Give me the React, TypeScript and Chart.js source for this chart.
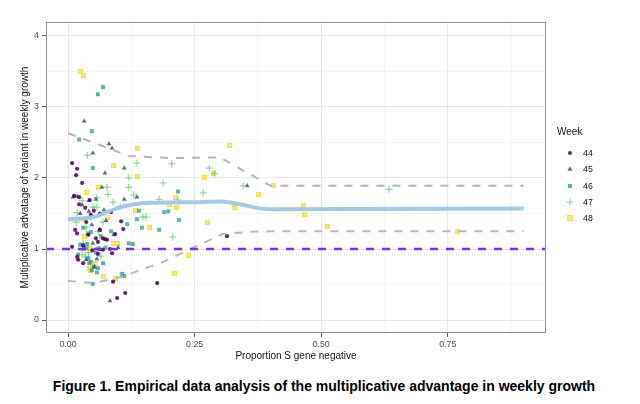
import { useEffect, useRef } from 'react'
import { Chart, registerables } from 'chart.js'

Chart.register(...registerables)

// proportion S gene negative vs multiplicative advantage, one list per week
const weeks = ['44', '45', '46', '47', '48']
const weekColors = [
  'rgba(68,1,84,0.85)',
  'rgba(59,82,139,0.85)',
  'rgba(33,144,140,0.72)',
  'rgba(94,201,98,0.8)',
  'rgba(253,231,37,0.5)',
]

const week44 = [
  [0.008, 2.21], [0.018, 2.13], [0.016, 2.04], [0.028, 1.93], [0.012, 1.75], [0.022, 1.73],
  [0.022, 1.63], [0.043, 1.69], [0.034, 1.58], [0.051, 1.54], [0.045, 1.48], [0.063, 1.5],
  [0.014, 1.27], [0.018, 1.22], [0.036, 1.38], [0.063, 1.27], [0.109, 1.28], [0.093, 1.21],
  [0.069, 1.15], [0.077, 1.13], [0.055, 1.15], [0.059, 1.1], [0.105, 1.39], [0.087, 0.94],
  [0.059, 0.93], [0.008, 1.03], [0.018, 0.89], [0.02, 0.85], [0.03, 0.8], [0.069, 0.99],
  [0.083, 1.0], [0.073, 1.14], [0.089, 0.54], [0.113, 0.38], [0.097, 0.31], [0.176, 0.52],
  [0.314, 1.18], [0.04, 1.2], [0.03, 1.05], [0.048, 0.98], [0.085, 1.52],
]
const week45 = [
  [0.032, 2.8], [0.081, 2.48], [0.087, 2.42], [0.049, 2.35], [0.073, 2.07], [0.111, 2.14],
  [0.067, 1.87], [0.01, 1.73], [0.018, 1.74], [0.041, 1.68], [0.055, 1.7], [0.111, 1.7],
  [0.136, 1.73], [0.024, 1.5], [0.041, 1.53], [0.071, 1.55], [0.047, 1.34], [0.062, 1.27],
  [0.049, 1.08], [0.036, 0.85], [0.057, 0.86], [0.063, 0.99], [0.083, 0.27], [0.354, 1.89],
  [0.028, 1.62], [0.09, 1.2], [0.075, 1.4], [0.03, 1.0], [0.052, 0.75], [0.099, 1.02],
]
const week46 = [
  [0.069, 3.28], [0.059, 3.18], [0.047, 2.66], [0.022, 2.54], [0.049, 2.14], [0.217, 1.81],
  [0.14, 1.54], [0.19, 1.52], [0.198, 1.53], [0.136, 1.42], [0.219, 1.41], [0.117, 1.35],
  [0.146, 1.3], [0.18, 1.27], [0.12, 1.08], [0.128, 1.07], [0.107, 0.65], [0.111, 0.62],
  [0.045, 1.24], [0.04, 1.22], [0.038, 1.07], [0.032, 1.02], [0.024, 1.06], [0.036, 1.01],
  [0.06, 1.01], [0.074, 1.02], [0.04, 0.87], [0.045, 0.82], [0.042, 0.8], [0.051, 0.75],
  [0.059, 0.73], [0.069, 0.8], [0.057, 0.67], [0.047, 0.7], [0.049, 0.51], [0.02, 0.92],
  [0.065, 1.18], [0.085, 1.25], [0.03, 1.3], [0.055, 0.95],
]
const week47 = [
  [0.038, 2.32], [0.136, 2.21], [0.205, 2.2], [0.279, 2.14], [0.289, 2.06], [0.346, 1.89],
  [0.267, 1.79], [0.634, 1.84], [0.077, 1.87], [0.12, 1.87], [0.188, 1.93], [0.13, 1.76],
  [0.18, 1.7], [0.217, 1.69], [0.148, 1.45], [0.154, 1.45], [0.207, 1.17], [0.079, 1.77],
  [0.089, 1.66], [0.028, 1.68], [0.049, 1.59], [0.057, 1.59], [0.103, 1.6], [0.018, 1.51],
  [0.016, 1.38], [0.069, 1.38], [0.036, 1.3], [0.03, 1.08], [0.028, 0.92], [0.034, 0.89],
  [0.057, 1.72], [0.12, 2.0], [0.045, 1.45], [0.06, 1.25], [0.04, 0.95], [0.065, 0.9],
]
const week48 = [
  [0.024, 3.5], [0.03, 3.45], [0.138, 2.42], [0.089, 2.18], [0.138, 2.02], [0.27, 2.01],
  [0.287, 2.07], [0.318, 2.46], [0.405, 1.9], [0.377, 1.77], [0.328, 1.58], [0.275, 1.38],
  [0.466, 1.61], [0.468, 1.49], [0.512, 1.31], [0.237, 0.91], [0.211, 0.65], [0.77, 1.25],
  [0.213, 1.73], [0.215, 1.59], [0.134, 1.54], [0.16, 1.3], [0.2, 1.63], [0.061, 1.86],
  [0.036, 1.8], [0.077, 1.45], [0.03, 1.41], [0.032, 1.17], [0.089, 1.08], [0.097, 1.08],
  [0.045, 1.01], [0.055, 0.79], [0.045, 0.7], [0.071, 0.61], [0.093, 0.59], [0.043, 0.72],
  [0.048, 0.76],
]
const weekPoints = [week44, week45, week46, week47, week48]

// fitted advantage and its band
const fitX = [0, 0.05, 0.1, 0.16, 0.26, 0.3, 0.4, 0.9]
const fitY = [1.42, 1.45, 1.58, 1.65, 1.66, 1.67, 1.56, 1.57]
const upperX = [0, 0.05, 0.12, 0.2, 0.3, 0.4, 0.9]
const upperY = [2.63, 2.5, 2.31, 2.28, 2.29, 1.89, 1.89]
const lowerX = [0, 0.05, 0.107, 0.188, 0.305, 0.354, 0.4, 0.9]
const lowerY = [0.55, 0.52, 0.61, 0.82, 1.21, 1.24, 1.25, 1.25]
const referenceY = 1

const xMin = -0.0435
const xMax = 0.944
const yMin = -0.183
const yMax = 4.197
const xTicks = [0, 0.25, 0.5, 0.75]
const xTickLabels = ['0.00', '0.25', '0.50', '0.75']
const yTicks = [0, 1, 2, 3, 4]
const yTickLabels = ['0', '1', '2', '3', '4']

const FONT = '"Liberation Sans", Arial, Helvetica, sans-serif'
const YELLOW_FILL = 'rgba(250,232,80,0.45)'
const YELLOW_EDGE = 'rgba(240,220,60,0.85)'

function withMinor(major: number[], max: number) {
  const step = major[1] - major[0]
  const out: number[] = []
  major.forEach(v => {
    out.push(v)
    if (v + step / 2 <= max) out.push(v + step / 2)
  })
  return out
}

// square with an x in it, like ggplot shape 7
function boxCross(size: number) {
  const c = document.createElement('canvas')
  c.width = size
  c.height = size
  const g = c.getContext('2d')!
  g.fillStyle = YELLOW_FILL
  g.fillRect(0, 0, size, size)
  g.strokeStyle = YELLOW_EDGE
  g.lineWidth = 1
  g.strokeRect(0.5, 0.5, size - 1, size - 1)
  g.beginPath()
  g.moveTo(0, 0)
  g.lineTo(size, size)
  g.moveTo(size, 0)
  g.lineTo(0, size)
  g.stroke()
  return c
}

const panelBorder = {
  id: 'panelBorder',
  afterDraw(chart: any) {
    const { ctx, chartArea } = chart
    ctx.save()
    ctx.strokeStyle = '#8c8c8c'
    ctx.lineWidth = 1
    ctx.strokeRect(chartArea.left + 0.5, chartArea.top + 0.5, chartArea.right - chartArea.left - 1, chartArea.bottom - chartArea.top - 1)
    ctx.restore()
  },
}

const toXY = (xs: number[], ys: number[]) => xs.map((x, i) => ({ x, y: ys[i] }))

export default function App() {
  const chartRef = useRef<HTMLCanvasElement>(null)

  useEffect(() => {
    if (!chartRef.current) return

    const styles: any[] = [
      { pointStyle: 'circle', pointRadius: 2.1, pointBorderWidth: 0 },
      { pointStyle: 'triangle', pointRadius: 2.8, pointBorderWidth: 0 },
      { pointStyle: 'rect', pointRadius: 2.8, pointBorderWidth: 0 },
      { pointStyle: 'cross', pointRadius: 3.6, pointBorderWidth: 1 },
      { pointStyle: boxCross(5), pointRadius: 2.5, pointBorderWidth: 0 },
    ]

    const scatterSets = weekPoints.map((pts, i) => ({
      label: weeks[i],
      data: pts.map(p => ({ x: p[0], y: p[1] })),
      backgroundColor: weekColors[i],
      borderColor: weekColors[i],
      showLine: false,
      order: 2,
      ...styles[i],
    }))

    const lineSets: any[] = [
      {
        label: 'reference',
        data: [{ x: xMin, y: referenceY }, { x: xMax, y: referenceY }],
        borderColor: '#7b2ee6',
        borderWidth: 2.3,
        borderDash: [8, 8],
        showLine: true,
        pointRadius: 0,
        order: 0,
      },
      {
        label: 'fit',
        data: toXY(fitX, fitY),
        borderColor: 'rgba(160,198,228,0.95)',
        borderWidth: 4,
        showLine: true,
        cubicInterpolationMode: 'monotone',
        pointRadius: 0,
        order: 1,
      },
      {
        label: 'upper',
        data: toXY(upperX, upperY),
        borderColor: '#b5b5b5',
        borderWidth: 2,
        borderDash: [8, 8],
        showLine: true,
        pointRadius: 0,
        order: 1,
      },
      {
        label: 'lower',
        data: toXY(lowerX, lowerY),
        borderColor: '#b5b5b5',
        borderWidth: 2,
        borderDash: [8, 8],
        showLine: true,
        pointRadius: 0,
        order: 1,
      },
    ]

    const isMajor = (list: number[], v: number) => list.some(t => Math.abs(t - v) < 1e-9)

    const chart = new Chart(chartRef.current, {
      type: 'scatter',
      data: { datasets: [...lineSets, ...scatterSets] },
      plugins: [panelBorder],
      options: {
        animation: false,
        responsive: true,
        maintainAspectRatio: false,
        layout: { padding: { top: 22, right: 94, left: 0, bottom: 0 } },
        plugins: { legend: { display: false }, tooltip: { enabled: false } },
        scales: {
          x: {
            type: 'linear',
            min: xMin,
            max: xMax,
            afterBuildTicks: (scale: any) => {
              scale.ticks = withMinor(xTicks, xMax).map(v => ({ value: v }))
            },
            afterFit: (scale: any) => {
              scale.height = 29
            },
            border: { display: false },
            grid: {
              color: (c: any) => (isMajor(xTicks, c.tick?.value) ? '#e8e8e8' : '#f2f2f2'),
              lineWidth: (c: any) => (isMajor(xTicks, c.tick?.value) ? 1 : 0.8),
              tickColor: (c: any) => (isMajor(xTicks, c.tick?.value) ? '#555' : 'rgba(0,0,0,0)'),
              tickLength: 4,
            },
            ticks: {
              autoSkip: false,
              maxRotation: 0,
              padding: 2,
              color: '#4d4d4d',
              font: { family: FONT, size: 8.8 },
              callback: (v: any) => {
                const i = xTicks.findIndex(t => Math.abs(t - v) < 1e-9)
                return i >= 0 ? xTickLabels[i] : ''
              },
            },
            title: {
              display: true,
              text: 'Proportion S gene negative',
              color: '#111',
              font: { family: FONT, size: 10 },
              padding: { top: 4, bottom: 0 },
            },
          },
          y: {
            type: 'linear',
            min: yMin,
            max: yMax,
            afterBuildTicks: (scale: any) => {
              scale.ticks = withMinor(yTicks, yMax).map(v => ({ value: v }))
            },
            afterFit: (scale: any) => {
              scale.width = 46
            },
            border: { display: false },
            grid: {
              color: (c: any) => (isMajor(yTicks, c.tick?.value) ? '#e8e8e8' : '#f2f2f2'),
              lineWidth: (c: any) => (isMajor(yTicks, c.tick?.value) ? 1 : 0.8),
              tickColor: (c: any) => (isMajor(yTicks, c.tick?.value) ? '#555' : 'rgba(0,0,0,0)'),
              tickLength: 4,
            },
            ticks: {
              autoSkip: false,
              padding: 3,
              color: '#4d4d4d',
              font: { family: FONT, size: 8.8 },
              callback: (v: any) => {
                const i = yTicks.findIndex(t => Math.abs(t - v) < 1e-9)
                return i >= 0 ? yTickLabels[i] : ''
              },
            },
            title: {
              display: true,
              text: 'Multiplicative advatage of variant in weekly growth',
              color: '#111',
              font: { family: FONT, size: 10 },
              padding: { top: 19, bottom: 0 },
            },
          },
        },
      },
    } as any)

    return () => chart.destroy()
  }, [])

  const marker = (i: number) => {
    const c = weekColors[i]
    if (i === 0) return <circle cx={5} cy={5} r={2} fill={c} />
    if (i === 1) return <polygon points="5,2.2 7.6,6.8 2.4,6.8" fill={c} />
    if (i === 2) return <rect x={3} y={3} width={4} height={4} fill={c} />
    if (i === 3)
      return (
        <g stroke={c} strokeWidth={1}>
          <line x1={1.5} y1={5} x2={8.5} y2={5} />
          <line x1={5} y1={1.5} x2={5} y2={8.5} />
        </g>
      )
    return (
      <g>
        <rect x={2.5} y={2.5} width={5} height={5} fill={YELLOW_FILL} stroke={YELLOW_EDGE} strokeWidth={1} />
        <line x1={2.5} y1={2.5} x2={7.5} y2={7.5} stroke={YELLOW_EDGE} />
        <line x1={7.5} y1={2.5} x2={2.5} y2={7.5} stroke={YELLOW_EDGE} />
      </g>
    )
  }

  return (
    <div style={{ position: 'absolute', left: 0, top: 0, width: 640, height: 404, background: '#fff', fontFamily: FONT }}>
      <div style={{ position: 'absolute', left: 0, top: 0, width: 640, height: 362 }}>
        <canvas ref={chartRef} />
      </div>
      <div style={{ position: 'absolute', left: 557, top: 126, fontSize: 10, color: '#111' }}>Week</div>
      {weeks.map((w, i) => (
        <div key={w} style={{ position: 'absolute', left: 565, top: 148 + i * 16.3, height: 10, display: 'flex', alignItems: 'center' }}>
          <svg width={10} height={10}>{marker(i)}</svg>
          <span style={{ marginLeft: 8, fontSize: 8.8, color: '#111' }}>{w}</span>
        </div>
      ))}
      <div style={{ position: 'absolute', left: 0, width: 648, top: 378, textAlign: 'center', fontWeight: 'bold', fontSize: 14, color: '#000' }}>
        Figure 1. Empirical data analysis of the multiplicative advantage in weekly growth
      </div>
    </div>
  )
}
